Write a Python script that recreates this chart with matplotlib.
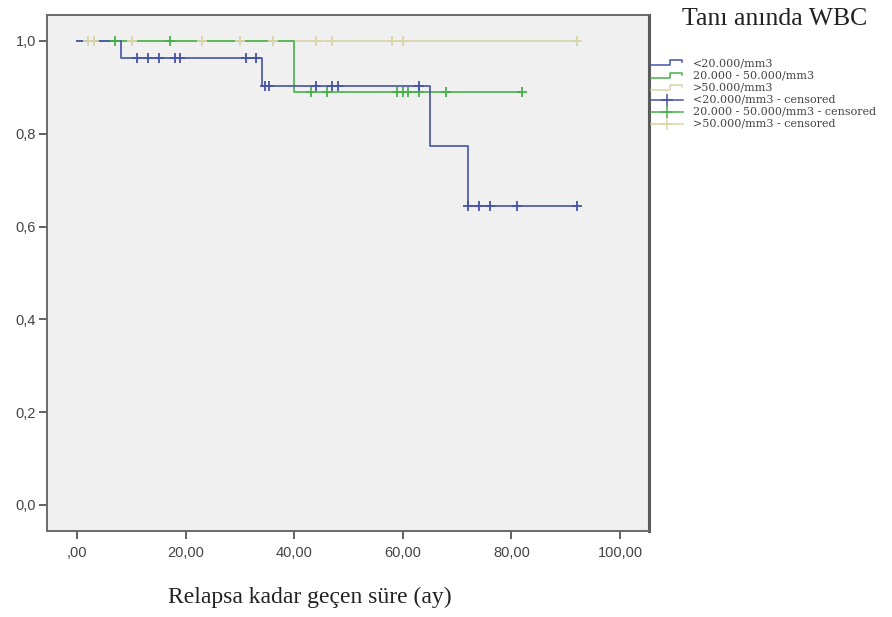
import numpy as np
import matplotlib
matplotlib.use("Agg")
import matplotlib.pyplot as plt
from matplotlib.lines import Line2D

# ---- data ----
group_labels = ["<20.000/mm3", "20.000 - 50.000/mm3", ">50.000/mm3"]
colors = ["#4652a6", "#47b04a", "#d8d5a8"]

# step-function points (time in months, survival)
blue_times = [0, 8, 34, 65, 72, 92]
blue_surv = [1.0, 0.964, 0.903, 0.774, 0.645, 0.645]
blue_censor = [11, 13, 15, 18, 19, 31, 33, 34.6, 35.3, 44, 47, 48, 63,
               72, 74, 76, 81, 92]

green_times = [0, 40, 82]
green_surv = [1.0, 0.889, 0.889]
green_censor = [7, 17, 43, 46, 59, 60, 61, 63, 68, 82]

yellow_times = [0, 92]
yellow_surv = [1.0, 1.0]
yellow_censor = [2, 3, 10, 23, 30, 36, 44, 47, 58, 60, 92]

x_ticks = [0, 20, 40, 60, 80, 100]
x_ticklabels = [",00", "20,00", "40,00", "60,00", "80,00", "100,00"]
y_ticks = [0.0, 0.2, 0.4, 0.6, 0.8, 1.0]
y_ticklabels = ["0,0", "0,2", "0,4", "0,6", "0,8", "1,0"]

legend_title = "Tanı anında WBC"
x_label = "Relapsa kadar geçen süre (ay)"

W, H = 892, 617
fig = plt.figure(figsize=(W / 100, H / 100), dpi=100)
ax = fig.add_axes([47 / W, 1 - 530.5 / H, (649.3 - 47) / W, (530.5 - 15) / H])
ax.set_facecolor("#f0f0f0")

series = [
    (yellow_times, yellow_surv, yellow_censor, colors[2]),
    (green_times, green_surv, green_censor, colors[1]),
    (blue_times, blue_surv, blue_censor, colors[0]),
]


def surv_at(times, surv, t):
    idx = np.searchsorted(times, t, side="right") - 1
    return np.asarray(surv)[idx]


for times, surv, cens, col in series:
    ax.step(times, surv, where="post", color=col, lw=1.2, zorder=3)
    cy = [surv_at(times, surv, c) for c in cens]
    ax.plot(cens, cy, ls="none", marker="+", ms=6.5, mew=1.3, color=col, zorder=4)

ax.set_xlim(-5.58, 105.4)
ax.set_ylim(-0.055, 1.056)
ax.set_xticks(x_ticks)
ax.set_xticklabels(x_ticklabels)
ax.set_yticks(y_ticks)
ax.set_yticklabels(y_ticklabels)
ax.tick_params(axis="both", direction="out", length=6, width=1.3, color="#555555",
               labelsize=10.5, labelcolor="#444444")
ax.tick_params(axis="x", pad=5)
ax.tick_params(axis="y", pad=2)
for lab in ax.get_xticklabels() + ax.get_yticklabels():
    lab.set_family("Liberation Sans")
for name, sp in ax.spines.items():
    sp.set_color("#6a6a6a")
    sp.set_linewidth(1.4)
ax.spines["right"].set_linewidth(2.2)
ax.spines["right"].set_color("#5a5a5a")

fig.text(310 / W, 1 - 597 / H, x_label, ha="center", va="center",
         family="Liberation Serif", fontsize=17, color="#222222")

# ---- legend drawn in pixel coordinates ----
lax = fig.add_axes([0, 0, 1, 1])
lax.set_xlim(0, W)
lax.set_ylim(H, 0)
lax.axis("off")
lax.text(775, 19, legend_title, ha="center", va="center",
         family="Liberation Serif", fontsize=18.5, color="#222222")

rows_y = [63, 75.5, 87.5, 99.5, 111.5, 123.5]
leg_cols = [colors[0], colors[1], colors[2], colors[0], colors[1], colors[2]]
leg_text = group_labels + [g + " - censored" for g in group_labels]
for i, (yy, col, txt) in enumerate(zip(rows_y, leg_cols, leg_text)):
    if i < 3:
        lax.add_line(Line2D([651, 670, 670, 682, 682], [yy + 2, yy + 2, yy - 3, yy - 3, yy - 1],
                            color=col, lw=1.1))
    else:
        lax.add_line(Line2D([651, 683], [yy, yy], color=col, lw=1.1))
        lax.add_line(Line2D([667], [yy], color=col, marker="+", ms=8, mew=1.1, ls="none"))
    lax.text(693, yy, txt, ha="left", va="center", family="DejaVu Serif",
             fontsize=8, color="#444444")

fig.savefig("out.png", dpi=100)
